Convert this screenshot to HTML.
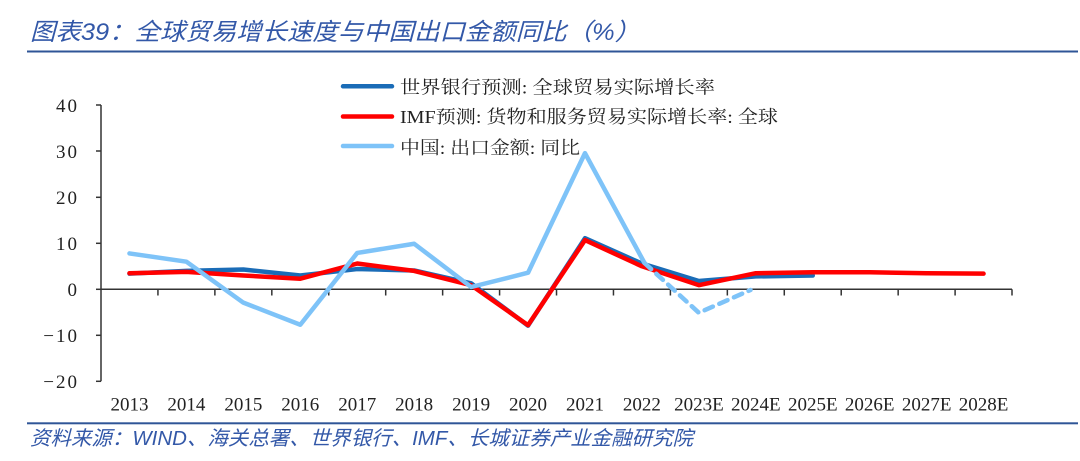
<!DOCTYPE html>
<html>
<head>
<meta charset="utf-8">
<style>
  html, body { margin:0; padding:0; background:#fff; }
  body { width:1080px; height:461px; overflow:hidden; }
  svg { display:block; }
</style>
</head>
<body>
<svg width="1080" height="461" viewBox="0 0 1080 461" xmlns="http://www.w3.org/2000/svg">
  <rect width="1080" height="461" fill="#ffffff"/>

  <!-- Title -->
  <text x="30" y="40" font-family="'Liberation Sans','Noto Sans CJK SC',sans-serif" font-size="24" font-style="italic" fill="#3358a8" textLength="610" lengthAdjust="spacingAndGlyphs">图表39：全球贸易增长速度与中国出口金额同比（%）</text>
  <rect x="27" y="50.5" width="1051" height="2" fill="#2f5597"/>

  <!-- Y axis -->
  <g stroke="#333" stroke-width="1.5" fill="none">
    <line x1="101" y1="105" x2="101" y2="381.3"/>
    <line x1="96" y1="105" x2="101" y2="105"/>
    <line x1="96" y1="151" x2="101" y2="151"/>
    <line x1="96" y1="197.3" x2="101" y2="197.3"/>
    <line x1="96" y1="243.3" x2="101" y2="243.3"/>
    <line x1="96" y1="289.3" x2="101" y2="289.3"/>
    <line x1="96" y1="335.3" x2="101" y2="335.3"/>
    <line x1="96" y1="381.3" x2="101" y2="381.3"/>
    <!-- X axis -->
    <line x1="101" y1="289.3" x2="1012" y2="289.3"/>
    <line x1="157.94" y1="289.3" x2="157.94" y2="295.5"/>
    <line x1="214.88" y1="289.3" x2="214.88" y2="295.5"/>
    <line x1="271.82" y1="289.3" x2="271.82" y2="295.5"/>
    <line x1="328.76" y1="289.3" x2="328.76" y2="295.5"/>
    <line x1="385.7" y1="289.3" x2="385.7" y2="295.5"/>
    <line x1="442.64" y1="289.3" x2="442.64" y2="295.5"/>
    <line x1="499.58" y1="289.3" x2="499.58" y2="295.5"/>
    <line x1="556.52" y1="289.3" x2="556.52" y2="295.5"/>
    <line x1="613.46" y1="289.3" x2="613.46" y2="295.5"/>
    <line x1="670.4" y1="289.3" x2="670.4" y2="295.5"/>
    <line x1="727.34" y1="289.3" x2="727.34" y2="295.5"/>
    <line x1="784.28" y1="289.3" x2="784.28" y2="295.5"/>
    <line x1="841.22" y1="289.3" x2="841.22" y2="295.5"/>
    <line x1="898.16" y1="289.3" x2="898.16" y2="295.5"/>
    <line x1="955.1" y1="289.3" x2="955.1" y2="295.5"/>
    <line x1="1012" y1="289.3" x2="1012" y2="295.5"/>
  </g>

  <!-- Y labels -->
  <g font-family="'Liberation Serif',serif" font-size="19" fill="#222" text-anchor="end" letter-spacing="2">
    <text x="79" y="112">40</text>
    <text x="79" y="158">30</text>
    <text x="79" y="204">20</text>
    <text x="79" y="250">10</text>
    <text x="79" y="296">0</text>
    <text x="79" y="342">−10</text>
    <text x="79" y="388">−20</text>
  </g>

  <!-- X labels -->
  <g font-family="'Liberation Serif',serif" font-size="19" fill="#222" text-anchor="middle">
    <text x="129.47" y="410.5">2013</text>
    <text x="186.41" y="410.5">2014</text>
    <text x="243.35" y="410.5">2015</text>
    <text x="300.29" y="410.5">2016</text>
    <text x="357.23" y="410.5">2017</text>
    <text x="414.17" y="410.5">2018</text>
    <text x="471.11" y="410.5">2019</text>
    <text x="528.05" y="410.5">2020</text>
    <text x="584.99" y="410.5">2021</text>
    <text x="641.93" y="410.5">2022</text>
    <text x="698.87" y="410.5">2023E</text>
    <text x="755.81" y="410.5">2024E</text>
    <text x="812.75" y="410.5">2025E</text>
    <text x="869.69" y="410.5">2026E</text>
    <text x="926.63" y="410.5">2027E</text>
    <text x="983.57" y="410.5">2028E</text>
  </g>

  <!-- Series: World Bank (dark blue) -->
  <polyline fill="none" stroke="#1a6cb7" stroke-width="4.5" stroke-linejoin="round" stroke-linecap="round"
    points="129.47,273.66 186.41,270.9 243.35,269.52 300.29,275.5 357.23,269.06 414.17,270.44 471.11,283.32 528.05,325.64 584.99,238.24 641.93,263.54 698.87,281.02 755.81,276.42 812.75,275.5"/>

  <!-- Series: IMF (red) -->
  <polyline fill="none" stroke="#ff0000" stroke-width="4.5" stroke-linejoin="round" stroke-linecap="round"
    points="129.47,273.2 186.41,271.82 243.35,275.5 300.29,278.72 357.23,263.54 414.17,270.9 471.11,285.16 528.05,325.18 584.99,240.08 641.93,266.3 698.87,285.16 755.81,273.2 812.75,272.28 869.69,272.28 926.63,273.2 983.57,273.66"/>

  <!-- Series: China exports (light blue) -->
  <polyline fill="none" stroke="#7ec3f8" stroke-width="4.5" stroke-linejoin="round" stroke-linecap="round"
    points="129.47,253.42 186.41,261.7 243.35,302.64 300.29,324.72 357.23,252.96 414.17,243.76 471.11,287.0 528.05,272.74 584.99,153.14 644.5,263"/>
  <polyline fill="none" stroke="#7ec3f8" stroke-width="4.5" stroke-linejoin="round" stroke-linecap="round" stroke-dasharray="9 7"
    points="644.5,263 698.87,312.76 750.5,290"/>

  <!-- Legend -->
  <g stroke-width="4.5" stroke-linecap="round">
    <line x1="343" y1="86.3" x2="392" y2="86.3" stroke="#1a6cb7"/>
    <line x1="343" y1="116.5" x2="392" y2="116.5" stroke="#ff0000"/>
    <line x1="343" y1="146" x2="392" y2="146" stroke="#7ec3f8"/>
  </g>
  <g font-family="'Liberation Serif','Noto Serif CJK SC',serif" font-size="18" fill="#222">
    <text x="400" y="93.5" textLength="315" lengthAdjust="spacingAndGlyphs">世界银行预测: 全球贸易实际增长率</text>
    <text x="400" y="123" textLength="378" lengthAdjust="spacingAndGlyphs">IMF预测: 货物和服务贸易实际增长率: 全球</text>
    <text x="400" y="154" textLength="180" lengthAdjust="spacingAndGlyphs">中国: 出口金额: 同比</text>
  </g>

  <!-- Footer -->
  <rect x="27" y="422.3" width="1051" height="2" fill="#2f5597"/>
  <text x="30" y="445" font-family="'Liberation Sans','Noto Sans CJK SC',sans-serif" font-size="20" font-style="italic" fill="#3358a8" textLength="663" lengthAdjust="spacingAndGlyphs">资料来源：WIND、海关总署、世界银行、IMF、长城证券产业金融研究院</text>
</svg>
</body>
</html>
